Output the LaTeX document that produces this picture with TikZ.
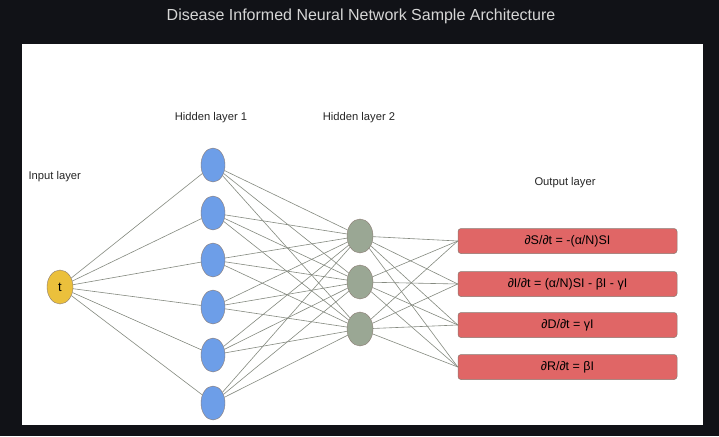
\documentclass[tikz,border=0pt]{standalone}
\usepackage{fontspec}
\setmainfont{Liberation Sans}
\usepackage{xcolor}
\usetikzlibrary{shapes.geometric}

\definecolor{bgdark}{HTML}{111217}
\definecolor{titlegrey}{HTML}{D6D6D6}
\definecolor{inputyellow}{HTML}{EBC03C}
\definecolor{hidblue}{HTML}{6D9EE8}
\definecolor{hidgreen}{HTML}{9AA794}
\definecolor{outred}{HTML}{E06666}
\definecolor{edgegrey}{HTML}{858A80}
\definecolor{rimbrown}{HTML}{8A7A72}

\begin{document}
\begin{tikzpicture}[x=1pt,y=-1pt,
    neuron/.style={ellipse, draw=rimbrown, line width=0.4pt, minimum width=25pt, minimum height=34pt, inner sep=0pt, font=\fontsize{13}{15}\selectfont},
    outbox/.style={rectangle, rounded corners=3pt, draw=rimbrown, line width=0.5pt, fill=outred, minimum width=219pt, minimum height=25pt, inner sep=0pt, font=\fontsize{12.5}{14}\selectfont},
    layerlabel/.style={font=\fontsize{11.2}{13}\selectfont, text=black!85},
    link/.style={edgegrey, line width=0.6pt}]
        % Frame
        \fill[bgdark] (0,0) rectangle (719,436);
        \fill[white] (22,44) rectangle (703,425);
        \node[font=\fontsize{16}{18}\selectfont, text=titlegrey] (title) at (361,16) {Disease Informed Neural Network Sample Architecture};

        % Layer labels
        \node[layerlabel, anchor=west] (lin) at (25,177) {Input layer};
        \node[layerlabel] (lh1) at (211,118) {Hidden layer 1};
        \node[layerlabel] (lh2) at (359,118) {Hidden layer 2};
        \node[layerlabel] (lout) at (565,183) {Output layer};

        % Neurons
        \node[neuron, fill=inputyellow, minimum width=26pt] (t) at (60,287) {t};
        \foreach \y [count=\i] in {165,213,260,307,355,403} {
            \node[neuron, fill=hidblue, minimum width=24pt] (hA\i) at (213,\y) {};
        }
        \foreach \y [count=\i] in {236,282,329} {
            \node[neuron, fill=hidgreen, minimum width=26pt] (hB\i) at (360,\y) {};
        }

        % Outputs
        \node[outbox] (o1) at (567.5,241) {∂S/∂t = -(α/N)SI};
        \node[outbox] (o2) at (567.5,284) {∂I/∂t = (α/N)SI - βI - γI};
        \node[outbox] (o3) at (567.5,325) {∂D/∂t = γI};
        \node[outbox] (o4) at (567.5,367) {∂R/∂t = βI};

        % Connections
        \foreach \i in {1,...,6} {
            \draw[link] (t) -- (hA\i);
            \foreach \j in {1,2,3} {
                \draw[link] (hA\i) -- (hB\j);
            }
        }
        \foreach \j in {1,2,3} {
            \foreach \k in {1,...,4} {
                \draw[link] (hB\j) -- (o\k.west);
            }
        }
    \end{tikzpicture}
\end{document}
